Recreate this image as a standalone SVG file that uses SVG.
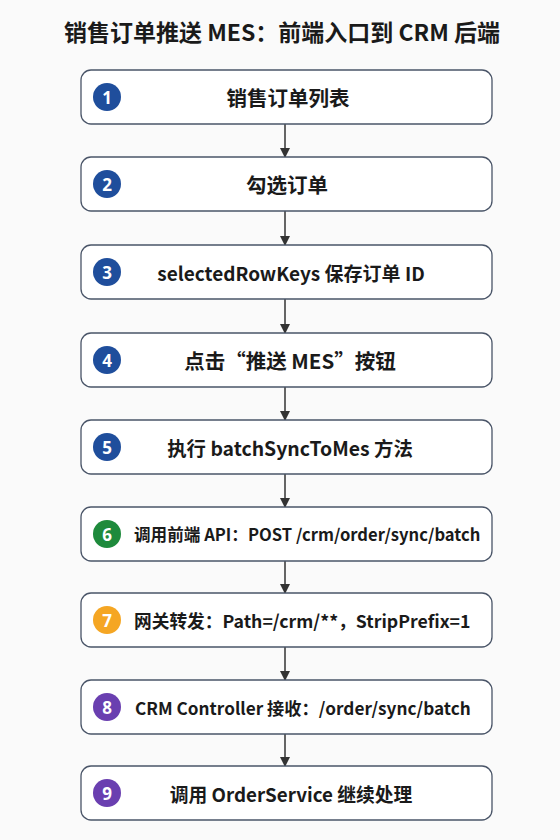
<svg xmlns="http://www.w3.org/2000/svg" width="560" height="840" viewBox="0 0 560 840">
<defs>
<marker id="ah" viewBox="0 0 10 10" refX="9" refY="5" markerWidth="10" markerHeight="10" markerUnits="userSpaceOnUse" orient="auto"><path d="M0,0 L10,5 L0,10 z" fill="#333"/></marker>
<style>
.box{fill:#fff;stroke:#4a5568;stroke-width:1.3}
.t{font-family:"Noto Sans CJK SC","Noto Sans",sans-serif;font-weight:700;font-size:17px;fill:#1a1a1a;dominant-baseline:central}
.c{text-anchor:middle}
.n{font-family:"Noto Sans","Noto Sans CJK SC",sans-serif;font-weight:700;font-size:17px;fill:#fff;text-anchor:middle;dominant-baseline:central}
.b{fill:#1f4e9c}.g{fill:#1e8a3c}.o{fill:#f5a623}.p{fill:#6a3fb0}
.ln{stroke:#333;stroke-width:1.5;fill:none}
</style>
</defs>
<rect width="560" height="840" fill="#fafafa"/>
<text x="282" y="31" class="t c" style="font-size:23px">销售订单推送 MES：前端入口到 CRM 后端</text>
<g id="connectors">
<line class="ln" x1="285" y1="124" x2="285" y2="157" marker-end="url(#ah)"/>
<line class="ln" x1="285" y1="211" x2="285" y2="245" marker-end="url(#ah)"/>
<line class="ln" x1="285" y1="299" x2="285" y2="333" marker-end="url(#ah)"/>
<line class="ln" x1="285" y1="387" x2="285" y2="420" marker-end="url(#ah)"/>
<line class="ln" x1="285" y1="474" x2="285" y2="507" marker-end="url(#ah)"/>
<line class="ln" x1="285" y1="561" x2="285" y2="593" marker-end="url(#ah)"/>
<line class="ln" x1="285" y1="647" x2="285" y2="680" marker-end="url(#ah)"/>
<line class="ln" x1="285" y1="734" x2="285" y2="766" marker-end="url(#ah)"/>
</g>
<g id="n1"><rect class="box" x="81" y="70" width="411" height="54" rx="10"/><circle class="b" cx="107" cy="97" r="14"/><text class="n" x="107" y="97">1</text><text class="t c" x="288" y="97" style="font-size:20.5px">销售订单列表</text></g>
<g id="n2"><rect class="box" x="81" y="157" width="411" height="54" rx="10"/><circle class="b" cx="107" cy="184" r="14"/><text class="n" x="107" y="184">2</text><text class="t c" x="287" y="184" style="font-size:20.5px">勾选订单</text></g>
<g id="n3"><rect class="box" x="81" y="245" width="411" height="54" rx="10"/><circle class="b" cx="107" cy="272" r="14"/><text class="n" x="107" y="272">3</text><text class="t c" x="291" y="272" style="font-size:19px">selectedRowKeys 保存订单 ID</text></g>
<g id="n4"><rect class="box" x="81" y="333" width="411" height="54" rx="10"/><circle class="b" cx="107" cy="360" r="14"/><text class="n" x="107" y="360">4</text><text class="t c" x="290" y="360" style="font-size:20.5px">点击“推送 MES”按钮</text></g>
<g id="n5"><rect class="box" x="81" y="420" width="411" height="54" rx="10"/><circle class="b" cx="107" cy="447" r="14"/><text class="n" x="107" y="447">5</text><text class="t c" x="290" y="447" style="font-size:19.4px">执行 batchSyncToMes 方法</text></g>
<g id="n6"><rect class="box" x="81" y="507" width="411" height="54" rx="10"/><circle class="g" cx="107" cy="534" r="14"/><text class="n" x="107" y="534">6</text><text class="t" x="134" y="534" style="font-size:16.6px">调用前端 API：<tspan style="font-weight:600">POST /crm/order/sync/batch</tspan></text></g>
<g id="n7"><rect class="box" x="81" y="593" width="411" height="54" rx="10"/><circle class="o" cx="107" cy="620" r="14"/><text class="n" x="107" y="620">7</text><text class="t" x="134" y="620" style="font-size:17.7px">网关转发：Path=/crm/**，StripPrefix=1</text></g>
<g id="n8"><rect class="box" x="81" y="680" width="411" height="54" rx="10"/><circle class="p" cx="107" cy="707" r="14"/><text class="n" x="107" y="707">8</text><text class="t" x="135" y="707" style="font-size:17.2px">CRM Controller 接收：<tspan style="font-weight:600">/order/sync/batch</tspan></text></g>
<g id="n9"><rect class="box" x="81" y="766" width="411" height="54" rx="10"/><circle class="p" cx="107" cy="793" r="14"/><text class="n" x="107" y="793">9</text><text class="t c" x="291" y="793" style="font-size:18.8px">调用 OrderService 继续处理</text></g>
</svg>
